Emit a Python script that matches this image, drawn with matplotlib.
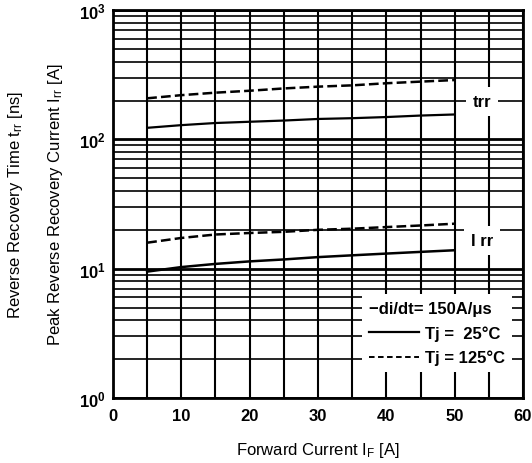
import matplotlib
matplotlib.use("Agg")
import matplotlib.pyplot as plt
from matplotlib.lines import Line2D
from matplotlib.ticker import FixedLocator, NullFormatter

plt.rcParams['font.family'] = ['Liberation Sans Narrow', 'Liberation Sans', 'DejaVu Sans']
plt.rcParams['lines.scale_dashes'] = False

# Data
forward_current = [5, 10, 15, 20, 25, 30, 35, 40, 45, 50]
trr_125 = [208, 220, 230, 238, 248, 256, 262, 272, 280, 288]
trr_25 = [123, 129, 134, 137, 140, 144, 146, 149, 153, 156]
irr_125 = [15.9, 17.3, 18.4, 18.9, 19.3, 20.0, 20.4, 21.0, 21.6, 22.3]
irr_25 = [9.5, 10.3, 10.9, 11.4, 11.8, 12.3, 12.7, 13.1, 13.5, 13.9]

x_ticks = [0, 10, 20, 30, 40, 50, 60]
y_ticks = [1, 10, 100, 1000]
y_tick_labels = [r'$\mathregular{10^{0}}$', r'$\mathregular{10^{1}}$',
                 r'$\mathregular{10^{2}}$', r'$\mathregular{10^{3}}$']

fig = plt.figure(figsize=(5.32, 4.64), dpi=100)
ax = fig.add_axes([0.2124, 0.140, 0.7707, 0.836])

dash = (0, (7, 3))
ax.plot(forward_current, trr_125, color='black', lw=1.8, linestyle=dash)
ax.plot(forward_current, trr_25, color='black', lw=1.6)
ax.plot(forward_current, irr_125, color='black', lw=1.8, linestyle=dash)
ax.plot(forward_current, irr_25, color='black', lw=1.8)

ax.set_yscale('log')
ax.set_xlim(0, 60)
ax.set_ylim(1, 1000)
ax.set_xticks(x_ticks)
ax.xaxis.set_minor_locator(FixedLocator(range(5, 60, 10)))
ax.set_yticks(y_ticks)
ax.set_yticklabels(y_tick_labels)
ax.yaxis.set_minor_formatter(NullFormatter())

ax.grid(which='major', axis='y', color='black', lw=2.0)
ax.grid(which='minor', axis='y', color='black', lw=1.2)
ax.grid(which='both', axis='x', color='black', lw=1.5)
ax.tick_params(which='both', length=0)
ax.tick_params(axis='x', pad=7, labelsize=12)
ax.tick_params(axis='y', pad=5, labelsize=12)
for lab in ax.get_xticklabels() + ax.get_yticklabels():
    lab.set_fontweight('bold')
for sp in ax.spines.values():
    sp.set_linewidth(2.0)

# curve labels
box = dict(facecolor='white', edgecolor='none', pad=5)
ax.text(54, 197, 'trr', ha='center', va='center', fontsize=12, fontweight='bold', bbox=box)
ax.text(54, 16.5, 'I rr', ha='center', va='center', fontsize=12, fontweight='bold', bbox=box)

handles = [Line2D([], [], color='black', lw=1.6),
           Line2D([], [], color='black', lw=1.4, linestyle=(0, (4, 2.5)))]
leg = ax.legend(handles, ['Tj =  25°C', 'Tj = 125°C'],
                title='\u2212di/dt= 150A/\u03bcs', loc='lower right',
                bbox_to_anchor=(0.973, 0.067), borderaxespad=0, fontsize=12,
                title_fontsize=12, frameon=True, fancybox=False,
                framealpha=1, edgecolor='none', handlelength=3.0,
                handletextpad=0.4, labelspacing=0.55, borderpad=0.4,
                alignment='left')
for t in leg.get_texts():
    t.set_fontweight('bold')
leg.get_title().set_fontweight('bold')

fig.text(0.597, 0.030, r'Forward Current $\mathregular{I_F}$ [A]',
         ha='center', va='center', fontsize=12, family=['Liberation Sans', 'DejaVu Sans'])
fig.text(0.030, 0.558, r'Reverse Recovery Time $\mathregular{t_{rr}}$ [ns]',
         ha='center', va='center', rotation=90, fontsize=12,
         family=['Liberation Sans', 'DejaVu Sans'])
fig.text(0.104, 0.558, r'Peak Reverse Recovery Current $\mathregular{I_{rr}}$ [A]',
         ha='center', va='center', rotation=90, fontsize=12,
         family=['Liberation Sans', 'DejaVu Sans'])

fig.savefig('out.png', dpi=100)
